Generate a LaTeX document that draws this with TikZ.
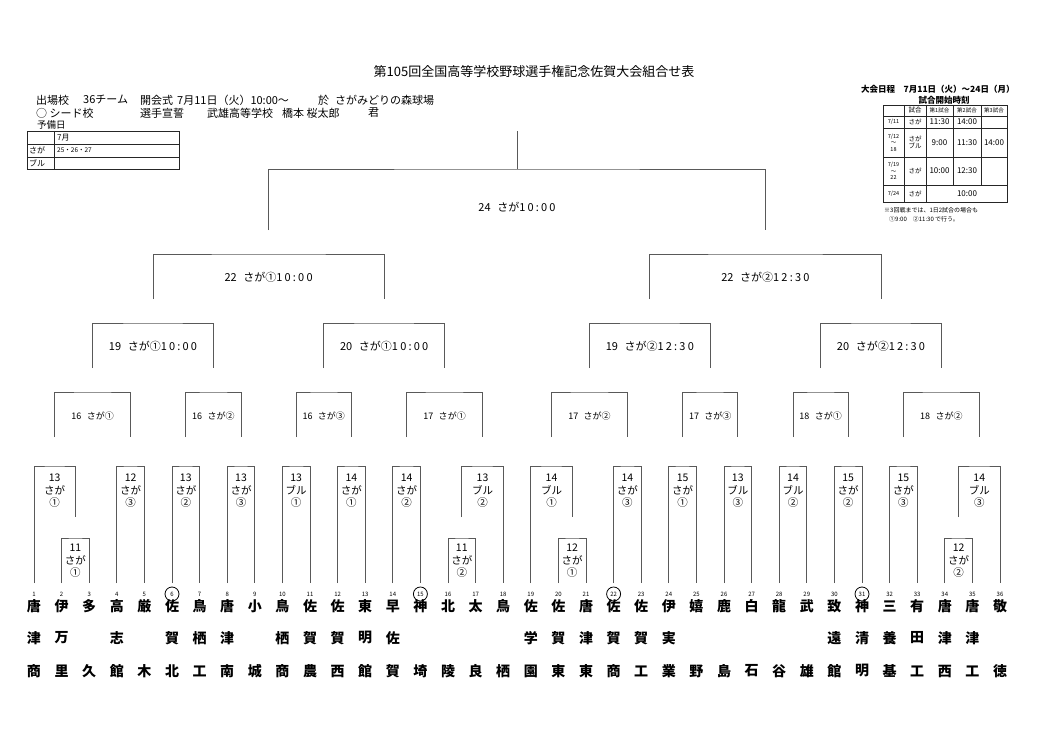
\documentclass[tikz,border=0pt]{standalone}
\usepackage{fontspec}
\setmainfont{Noto Sans CJK JP}
\newfontfamily\timefont[LetterSpace=20]{Noto Sans CJK JP}
\usetikzlibrary{positioning}

\newcommand{\bkt}[6]{%
  \coordinate (#1l) at (#2,#5);
  \coordinate (#1r) at (#3,#6);
  \coordinate (#1c) at ({(#2+#3)/2},#4);
  \draw[bline] (#1l) |- (#1c) -| (#1r);}
\newcommand{\gap}{\hspace{0.6em}}

\begin{document}
\begin{tikzpicture}[x=1pt, y=-1pt,
    bline/.style={draw=black!65, line width=0.9pt},
    tline/.style={draw=black!85, line width=0.6pt},
    txt/.style={inner sep=0pt, anchor=west, font=\fontsize{11}{12}\selectfont},
    lr1/.style={font=\fontsize{10.5}{12.5}\selectfont, align=center, inner sep=0pt, yshift=-25pt},
    lsub/.style={lr1, yshift=2pt},
    lr2/.style={font=\fontsize{9}{10}\selectfont, inner sep=0pt, yshift=-24pt},
    lr3/.style={font=\fontsize{11}{12}\selectfont, inner sep=0pt, yshift=-23pt},
    lfin/.style={lr3, yshift=-15pt},
    num/.style={font=\fontsize{6}{6}\selectfont, inner sep=0pt},
    nm/.style={font=\fontsize{14}{14}\bfseries\selectfont, inner sep=0pt},
    cell/.style={font=\fontsize{8}{9}\selectfont, inner sep=0pt, align=center},
    small/.style={font=\fontsize{5.5}{6.5}\selectfont, inner sep=0pt, align=center}
]
\useasboundingbox (0,0) rectangle (1039,733);

\node[font=\fontsize{13}{13}\selectfont, inner sep=0pt] (title) at (534,72) {第105回全国高等学校野球選手権記念佐賀大会組合せ表};

\node[txt] (hd1) at (36,100) {出場校};
\node[txt] (hd2) at (83,100) {36チーム};
\node[txt] (hd3) at (140,100) {開会式};
\node[txt] (hd4) at (177,100) {7月11日（火）10:00～};
\node[txt] (hd5) at (318,100) {於};
\node[txt] (hd6) at (335,100) {さがみどりの森球場};
\node[txt] (hd7) at (36,113) {○ シード校};
\node[txt] (hd8) at (140,113) {選手宣誓};
\node[txt] (hd9) at (207,113) {武雄高等学校};
\node[txt] (hd10) at (282,113) {橋本 桜太郎};
\node[txt] (hd11) at (368,113) {君};
\node[txt, font=\fontsize{9.5}{10}\selectfont] (yobi) at (37,125) {予備日};

\draw[tline] (27,131) rectangle (179,169);
\draw[tline] (27,144) -- (179,144) (27,157) -- (179,157) (54,131) -- (54,169);
\node[txt, font=\fontsize{8}{8}\selectfont] (ym) at (57,137.5) {7月};
\node[txt, font=\fontsize{8}{8}\selectfont] (ys) at (29,150.5) {さが};
\node[txt, font=\fontsize{6.5}{7}\selectfont] (yd) at (57,150.5) {25・26・27};
\node[txt, font=\fontsize{8}{8}\selectfont] (yb) at (29,163) {ブル};

\node[txt, font=\fontsize{8.5}{9}\bfseries\selectfont] (sch) at (861,89) {大会日程　7月11日（火）～24日（月）};
\node[font=\fontsize{8.5}{9}\bfseries\selectfont, inner sep=0pt] (kick) at (944,100) {試合開始時刻};
\draw[tline] (883,105) rectangle (1007,202);
\draw[tline] (883,116) -- (1007,116) (883,128) -- (1007,128) (883,157) -- (1007,157) (883,185) -- (1007,185);
\draw[tline] (904,105) -- (904,202) (926,105) -- (926,202) (953,105) -- (953,185) (981,105) -- (981,185);
\node[small, font=\fontsize{6.5}{7}\selectfont] (c01) at (915,110.5) {試合};
\node[small] (c02) at (939.5,110.5) {第1試合};
\node[small] (c03) at (967,110.5) {第2試合};
\node[small] (c04) at (994,110.5) {第3試合};
\node[small] (c10) at (893.5,122) {7/11};
\node[small, font=\fontsize{6.5}{7}\selectfont] (c11) at (915,122) {さが};
\node[cell] (c12) at (939.5,122) {11:30};
\node[cell] (c13) at (967,122) {14:00};
\node[small] (c20) at (893.5,142.5) {7/12\\～\\18};
\node[small, font=\fontsize{6.5}{7.5}\selectfont] (c21) at (915,142.5) {さが\\ブル};
\node[cell] (c22) at (939.5,142.5) {9:00};
\node[cell] (c23) at (967,142.5) {11:30};
\node[cell] (c24) at (994,142.5) {14:00};
\node[small] (c30) at (893.5,171) {7/19\\～\\22};
\node[small, font=\fontsize{6.5}{7}\selectfont] (c31) at (915,171) {さが};
\node[cell] (c32) at (939.5,171) {10:00};
\node[cell] (c33) at (967,171) {12:30};
\node[small] (c40) at (893.5,193.5) {7/24};
\node[small, font=\fontsize{6.5}{7}\selectfont] (c41) at (915,193.5) {さが};
\node[cell] (c42) at (967,193.5) {10:00};
\node[txt, font=\fontsize{6}{6}\selectfont] (nt1) at (884,210) {※3回戦までは、1日2試合の場合も};
\node[txt, font=\fontsize{6}{6}\selectfont] (nt2) at (889,219) {①9:00　②11:30 で行う。};

\bkt{k1}{34}{75.4}{466}{583}{517}
\bkt{ks1}{61.6}{89.2}{538}{583}{583}
\bkt{k2}{116.8}{144.4}{466}{583}{583}
\bkt{k3}{172.0}{199.6}{466}{583}{583}
\bkt{k4}{227.2}{254.8}{466}{583}{583}
\bkt{k5}{282.4}{310.0}{466}{583}{583}
\bkt{k6}{337.6}{365.2}{466}{583}{583}
\bkt{k7}{392.8}{420.4}{466}{583}{583}
\bkt{k8}{461.8}{503.2}{466}{517}{583}
\bkt{ks8}{448.0}{475.6}{538}{583}{583}
\bkt{k9}{530.8}{572.2}{466}{583}{517}
\bkt{ks9}{558.4}{586.0}{538}{583}{583}
\bkt{k10}{613.6}{641.2}{466}{583}{583}
\bkt{k11}{668.8}{696.4}{466}{583}{583}
\bkt{k12}{724.0}{751.6}{466}{583}{583}
\bkt{k13}{779.2}{806.8}{466}{583}{583}
\bkt{k14}{834.4}{862.0}{466}{583}{583}
\bkt{k15}{889.6}{917.2}{466}{583}{583}
\bkt{k16}{958.6}{1000.0}{466}{517}{583}
\bkt{ks16}{944.8}{972.4}{538}{583}{583}

\bkt{g1}{54.7}{130.6}{392}{437}{437}
\bkt{g2}{185.8}{241.0}{392}{437}{437}
\bkt{g3}{296.2}{351.4}{392}{437}{437}
\bkt{g4}{406.6}{482.5}{392}{437}{437}
\bkt{g5}{551.5}{627.4}{392}{437}{437}
\bkt{g6}{682.6}{737.8}{392}{437}{437}
\bkt{g7}{793.0}{848.2}{392}{437}{437}
\bkt{g8}{903.4}{979.3}{392}{437}{437}

\bkt{s1}{92.65}{213.4}{323}{368}{368}
\bkt{s2}{323.8}{444.55}{323}{368}{368}
\bkt{s3}{589.45}{710.2}{323}{368}{368}
\bkt{s4}{820.6}{941.35}{323}{368}{368}

\bkt{h1}{153.0}{384.2}{254}{299}{299}
\bkt{h2}{649.8}{881.0}{254}{299}{299}

\bkt{fin}{268.6}{765.4}{169}{230}{230}
\coordinate (top) at (517,131);
\draw[bline] (finc) -- (top);

\foreach \k/\lab in {1/13\\さが\\①, 2/12\\さが\\③, 3/13\\さが\\②, 4/13\\さが\\③,
    5/13\\ブル\\①, 6/14\\さが\\①, 7/14\\さが\\②, 8/13\\ブル\\②,
    9/14\\ブル\\①, 10/14\\さが\\③, 11/15\\さが\\①, 12/13\\ブル\\③,
    13/14\\ブル\\②, 14/15\\さが\\②, 15/15\\さが\\③, 16/14\\ブル\\③}
  \node[lr1] (lk\k) at (k\k c) {\lab};
\foreach \k/\lab in {1/11\\さが\\①, 8/11\\さが\\②, 9/12\\さが\\①, 16/12\\さが\\②}
  \node[lsub] (lks\k) at (ks\k c) {\lab};
\foreach \k/\lab in {1/16\gap さが①, 2/16\gap さが②, 3/16\gap さが③, 4/17\gap さが①,
    5/17\gap さが②, 6/17\gap さが③, 7/18\gap さが①, 8/18\gap さが②}
  \node[lr2] (lg\k) at (g\k c) {\lab};
\node[lr3] (ls1) at (s1c) {19\gap さが①{\timefont 10:00}};
\node[lr3] (ls2) at (s2c) {20\gap さが①{\timefont 10:00}};
\node[lr3] (ls3) at (s3c) {19\gap さが②{\timefont 12:30}};
\node[lr3] (ls4) at (s4c) {20\gap さが②{\timefont 12:30}};
\node[lr3] (lh1) at (h1c) {22\gap さが①{\timefont 10:00}};
\node[lr3] (lh2) at (h2c) {22\gap さが②{\timefont 12:30}};
\node[lfin] (lfin) at (finc) {24\gap さが{\timefont 10:00}};

\foreach \n in {1,...,36}
  \node[num] (n\n) at ({6.4+27.6*\n},594) {\n};
\foreach \s in {6,15,22,31}
  \draw[line width=0.8pt] (n\s) circle (7pt);

\foreach \n/\a/\b/\c in {1/唐/津/商, 2/伊/万/里, 3/多//久, 4/高/志/館, 5/厳//木, 6/佐/賀/北,
    7/鳥/栖/工, 8/唐/津/南, 9/小//城, 10/鳥/栖/商, 11/佐/賀/農, 12/佐/賀/西,
    13/東/明/館, 14/早/佐/賀, 15/神//埼, 16/北//陵, 17/太//良, 18/鳥//栖,
    19/佐/学/園, 20/佐/賀/東, 21/唐/津/東, 22/佐/賀/商, 23/佐/賀/工, 24/伊/実/業,
    25/嬉//野, 26/鹿//島, 27/白//石, 28/龍//谷, 29/武//雄, 30/致/遠/館,
    31/神/清/明, 32/三/養/基, 33/有/田/工, 34/唐/津/西, 35/唐/津/工, 36/敬//徳} {
  \node[nm] (na\n) at ({6.4+27.6*\n},606) {\a};
  \node[nm] (nb\n) at ({6.4+27.6*\n},638) {\b};
  \node[nm] (nc\n) at ({6.4+27.6*\n},671) {\c};
}
\end{tikzpicture}
\end{document}
